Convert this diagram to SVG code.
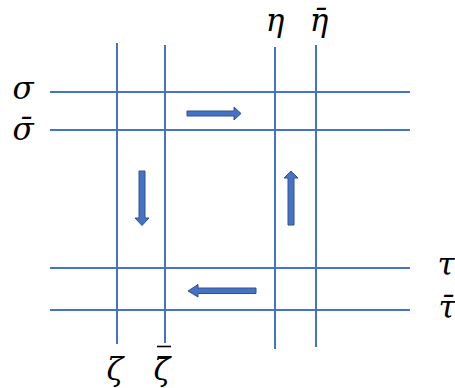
<svg xmlns="http://www.w3.org/2000/svg" width="455" height="388" viewBox="0 0 455 388">
<style>
.ln{stroke:#4472C4;stroke-width:2;fill:none}
.ar{fill:#4472C4;stroke:#2F528F;stroke-width:1}
.lb{font-family:"DejaVu Serif","Liberation Serif",serif;font-style:italic;font-size:31px;fill:#000;text-anchor:middle}
.bar{stroke:#000;stroke-width:1.6}
</style>
<rect width="455" height="388" fill="#fff"/>
<g id="lines">
<line class="ln" x1="117" y1="43" x2="117" y2="344"/>
<line class="ln" x1="165" y1="45" x2="165" y2="343"/>
<line class="ln" x1="275" y1="47" x2="275" y2="349"/>
<line class="ln" x1="316" y1="45" x2="316" y2="347"/>
<line class="ln" x1="50" y1="92" x2="410" y2="92"/>
<line class="ln" x1="50" y1="130" x2="410" y2="130"/>
<line class="ln" x1="50" y1="268" x2="410" y2="268"/>
<line class="ln" x1="50" y1="310" x2="410" y2="310"/>
</g>
<g id="connectors">
<polygon class="ar" points="187,111 234,111 234,107 241,113.5 234,120 234,116 187,116"/>
<polygon class="ar" points="139,171 145,171 145,218 149,218 142,225.5 135,218 139,218"/>
<polygon class="ar" points="288,225 294,225 294,178 298,178 291,171 284,178 288,178"/>
<polygon class="ar" points="256,288 198,288 198,284.5 188,291 198,297 198,293.5 256,293.5"/>
</g>
<g id="labels">
<text class="lb" x="23" y="99">σ</text>
<text class="lb" x="23" y="140">σ̄</text>
<text class="lb" x="275" y="31">η</text>
<text class="lb" x="319" y="31">η̄</text>
<text class="lb" x="446" y="275">τ</text>
<text class="lb" x="447" y="318">τ̄</text>
<text class="lb" x="115" y="380">ζ</text>
<text class="lb" x="162" y="380">ζ̄</text>
<line class="bar" x1="157" y1="346.5" x2="171" y2="346.5"/>
</g>
</svg>
